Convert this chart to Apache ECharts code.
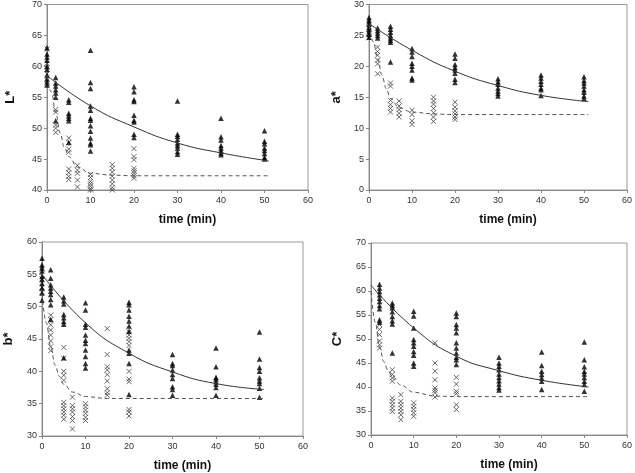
<!DOCTYPE html>
<html>
<head>
<meta charset="utf-8">
<script src="https://cdn.jsdelivr.net/npm/echarts@6/dist/echarts.min.js"></script>
<style>
  html, body { margin: 0; padding: 0; background: #fff; }
  #main { width: 635px; height: 473px; }
</style>
</head>
<body>
<div id="main"></div>
<script>
// ---- data ----
// times (min) where the triangles / crosses were measured
const triTimes = [0, 2, 5, 10, 20, 30, 40, 50];
const crossTimes = [0, 2, 5, 7, 10, 15, 20];

// L*
const lTri = [
  [63, 62, 61.5, 61, 60, 59.5, 58.5, 58, 57.5, 57],
  [58.2, 57.3, 56.8, 56.2, 55.7, 55, 51.2],
  [54.6, 54.2, 52.4, 52, 51.6, 51.2, 47.7],
  [62.6, 57.4, 56.4, 53.6, 52.9, 51.6, 51.3, 50.4, 49.5, 48.4, 47.6, 47.3, 46.3],
  [56.7, 55.9, 54.6, 54.3, 52.1, 51.3, 51, 49, 48.5],
  [54.4, 49, 48.7, 48.2, 47.6, 47.2, 46.8, 46.2, 45.8],
  [51.6, 48.6, 48.1, 47.2, 46.8, 46.4, 46, 45.7],
  [49.6, 47.9, 47.5, 46.8, 46.4, 45.9, 45.3, 45]
];
const lCross = [
  [62.8, 60.5, 59.8, 58.8, 57.2],
  [53, 52.6, 50.5, 50, 49.3],
  [48.4, 47.7, 46.6, 46.1, 43.4, 42.8, 42.2, 41.7],
  [44, 43.2, 42.7, 41.6, 40.5],
  [42.5, 42, 41.4, 41, 40.6, 40.2, 40],
  [44.1, 43.5, 42.9, 42.2, 41.6, 41, 40.4, 40],
  [46.7, 45.4, 44.9, 43.5, 43.1, 42.7, 42.3, 41.9]
];

// a*
const aTri = [
  [27.9, 27.5, 27.2, 26.8, 26.4, 26, 25.6, 25.2, 24.7],
  [26.2, 25.8, 25.4, 25, 24.6],
  [26.5, 26, 25.5, 25, 24.6, 24.2, 23.9, 20.7],
  [22.9, 22.3, 21.6, 20.5, 20, 19.4, 18.1, 17.8],
  [22, 21.3, 20.3, 19.8, 19.4, 18.9, 17.9, 17.4],
  [18, 17.5, 17.1, 16.5, 16, 15.6, 15.2],
  [18.6, 18.1, 17.6, 17.1, 16.5, 16.2, 15.3],
  [18.3, 17.7, 17.3, 16.8, 16.2, 15.8, 15.2, 14.8]
];
const aCross = [
  [26.2, 25.2, 24.6],
  [23.1, 22.4, 21.8, 21, 20.4, 18.8],
  [17.3, 16.8, 14.5, 13.8, 13.2, 12.6],
  [14.4, 13.6, 13, 12.4, 11.8],
  [12.9, 12.2, 11.2, 10.6],
  [15, 14.4, 13.9, 13.2, 12.5, 11.8, 11.1],
  [14.2, 13.4, 12.8, 12.3, 11.8, 11.4]
];

// b*
const bTri = [
  [57.5, 56.5, 56, 55.5, 54.7, 54.2, 53.6, 52.9, 52.1, 51],
  [55.7, 54.4, 53.4, 52.9, 52.4, 51.9, 51.1, 50.3, 48],
  [51.5, 50.9, 50.4, 48.8, 48.3, 47.7, 47.3, 42.1],
  [50.6, 49.5, 47.3, 46.8, 45.6, 44.8, 44.3, 43.3, 42.3, 41.2, 40.5],
  [50.7, 50.3, 49.5, 48.5, 47.8, 47, 46.2, 43.3, 42.8, 41.2, 36.4],
  [42.6, 41.2, 40.9, 40.2, 39.5, 38.9, 37.6, 37.2, 36.3],
  [43.6, 40.7, 39.1, 38.8, 38.4, 38, 37.5, 36.3],
  [46.1, 41.9, 40.6, 40, 39, 38.5, 38.1, 37.4, 36]
];
const bCross = [
  [55.8, 54.3, 53, 52.2],
  [48.7, 48, 47.2, 46.4, 45.6, 44.7, 43.8, 43.2],
  [43.7, 42, 40, 39.4, 38.6, 35.2, 34.7, 34.2, 33.7, 33.2, 32.6],
  [36, 34.7, 34.2, 33.7, 33, 32.4, 31.1],
  [35, 34.5, 34, 33.5, 32.9, 32.4],
  [46.6, 42.6, 40.7, 40.2, 39.5, 38.5, 37.3, 36.7, 36.3],
  [46.1, 45.6, 45.1, 44.6, 44, 40, 38.8, 38.4, 34.1, 33.7, 33.1]
];

// C* (no readings at t = 0)
const cTriTimes = [2, 5, 10, 20, 30, 40, 50];
const cCrossTimes = [2, 5, 7, 10, 15, 20];
const cTri = [
  [61.4, 60.6, 59.9, 59.2, 58.5, 57.8, 57, 56.3, 54, 53.5],
  [57.5, 57, 56.5, 55.7, 54.7, 53.8, 53.1, 47.1],
  [55.8, 54.8, 52.3, 49.9, 49.2, 48.5, 47.4, 46.6, 45, 44.3],
  [55.4, 54.7, 53, 52.3, 51.3, 49.2, 48.1, 47.1, 46.2, 45.7, 44.7],
  [46.2, 45, 44.3, 43.6, 42.7, 42, 41.3, 40.6, 39.9, 39.4],
  [47.3, 44.5, 43.3, 42.6, 41.9, 41.2, 39.5],
  [49.4, 45.7, 44.2, 43.3, 42.7, 42, 41.2, 40.5, 39.1]
];
const cCross = [
  [53, 52, 50.9, 49.6, 48.8, 48.1],
  [43.6, 42.6, 41.9, 41.2, 37.7, 37, 36.3, 35.6, 34.9],
  [38.4, 37, 36.3, 35.6, 34.9, 34.2, 33.2],
  [36.7, 36, 35.3, 34.6, 33.9],
  [49.2, 45, 43.3, 41.5, 39.8, 39.3, 38.8, 37.9],
  [42, 40.6, 39.1, 38.6, 36.3, 35.3]
];

// fitted curves, read at these times
const solidTimes = [0, 10, 20, 30, 40, 51];
const dashTimes = [0, 1, 2, 3, 4, 5, 7, 10, 15, 20, 51];
const lSolid = [58.5, 53.6, 50.2, 47.6, 46, 44.7];
const lDash = [58.5, 55.8, 52.6, 49.2, 46.9, 45.4, 43.7, 42.7, 42.4, 42.3, 42.3];
const aSolid = [26.9, 22.6, 19.2, 16.9, 15.3, 14.3];
const aDash = [26.7, 24, 21.3, 18.6, 16.4, 14.8, 13.3, 12.6, 12.3, 12.2, 12.2];
const bSolid = [55, 47.5, 42.8, 39.9, 38.1, 37.2];
const bDash = [52, 47.5, 43.8, 41, 39.2, 38, 36.8, 36.1, 35.8, 35.8, 35.8];
const cSolid = [61.2, 52.3, 46.4, 43.4, 41.4, 40];
const cDash = [60, 53.5, 48.3, 45.3, 43.4, 42.2, 40.4, 38.9, 38.1, 38, 38];

// ---- chart ----
const font = 'Liberation Sans, Arial, sans-serif';
const crossPath = 'path://M0,0L10,10M0,10L10,0';

function pairs(times, groups) {
  const out = [];
  groups.forEach((g, i) => g.forEach(v => out.push([times[i], v])));
  return out;
}
function zip(ts, vs) {
  return ts.map((t, i) => [t, vs[i]]);
}

const panels = [
  { name: 'L*', min: 40, max: 70, grid: { left: 47, top: 0, width: 261, height: 190 }, gap: 30,
    tri: pairs(triTimes, lTri), cross: pairs(crossTimes, lCross), solid: lSolid, dash: lDash },
  { name: 'a*', min: 0, max: 30, grid: { left: 369, top: 0, width: 261, height: 190 }, gap: 26,
    tri: pairs(triTimes, aTri), cross: pairs(crossTimes, aCross), solid: aSolid, dash: aDash },
  { name: 'b*', min: 30, max: 60, grid: { left: 42, top: 242, width: 261, height: 194 }, gap: 27,
    tri: pairs(triTimes, bTri), cross: pairs(crossTimes, bCross), solid: bSolid, dash: bDash },
  { name: 'C*', min: 30, max: 70, grid: { left: 371, top: 243, width: 260, height: 192 }, gap: 27,
    tri: pairs(cTriTimes, cTri), cross: pairs(cCrossTimes, cCross), solid: cSolid, dash: cDash }
];

const grids = [], xAxes = [], yAxes = [], series = [];
panels.forEach((p, i) => {
  grids.push(Object.assign({ show: true, borderColor: '#999', borderWidth: 1 }, p.grid));
  xAxes.push({
    gridIndex: i, type: 'value', min: 0, max: 60, interval: 10,
    name: 'time (min)', nameLocation: 'middle', nameGap: 24,
    nameTextStyle: { fontFamily: font, fontWeight: 'bold', fontSize: 12, color: '#111', padding: [0, 0, 0, 20] },
    axisLine: { lineStyle: { color: '#888' } },
    axisTick: { show: true, length: 3, lineStyle: { color: '#888' } },
    axisLabel: { fontFamily: font, fontSize: 9, color: '#333', margin: 6 },
    splitLine: { show: false }
  });
  yAxes.push({
    gridIndex: i, type: 'value', min: p.min, max: p.max, interval: 5,
    name: p.name, nameLocation: 'middle', nameGap: p.gap, nameRotate: 90,
    nameTextStyle: { fontFamily: font, fontWeight: 'bold', fontSize: 13, color: '#111' },
    axisLine: { show: true, lineStyle: { color: '#888' } },
    axisTick: { show: true, length: 3, lineStyle: { color: '#888' } },
    axisLabel: { fontFamily: font, fontSize: 9, color: '#333', margin: 5 },
    splitLine: { show: false }
  });
  series.push({
    type: 'scatter', xAxisIndex: i, yAxisIndex: i, data: p.cross,
    symbol: crossPath, symbolSize: 5,
    itemStyle: { color: 'none', borderColor: '#444', borderWidth: 1 }, z: 3
  });
  series.push({
    type: 'scatter', xAxisIndex: i, yAxisIndex: i, data: p.tri,
    symbol: 'triangle', symbolSize: 5.5, itemStyle: { color: '#000' }, z: 4
  });
  series.push({
    type: 'line', xAxisIndex: i, yAxisIndex: i, data: zip(solidTimes, p.solid),
    smooth: 0.5, showSymbol: false,
    lineStyle: { color: '#333', width: 1 }, z: 5
  });
  series.push({
    type: 'line', xAxisIndex: i, yAxisIndex: i, data: zip(dashTimes, p.dash),
    smooth: 0.4, smoothMonotone: 'x', showSymbol: false,
    lineStyle: { color: '#555', width: 1, type: [4, 3] }, z: 5
  });
});

const chart = echarts.init(document.getElementById('main'));
chart.setOption({
  animation: false,
  backgroundColor: '#fff',
  grid: grids, xAxis: xAxes, yAxis: yAxes, series: series
});
</script>
</body>
</html>
